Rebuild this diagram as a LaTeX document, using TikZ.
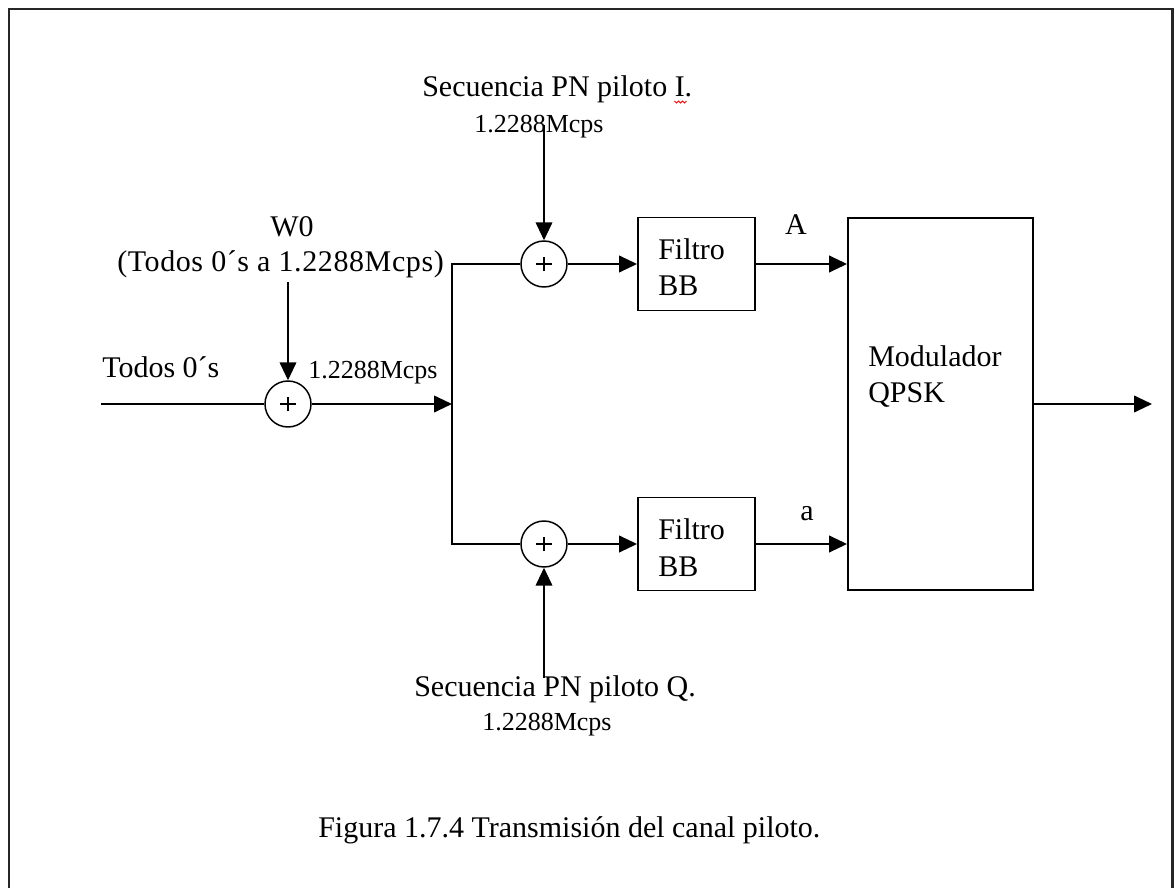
\documentclass[tikz,border=0pt]{standalone}
\usepackage{fontspec}
\setmainfont{Liberation Serif}
\usetikzlibrary{arrows.meta}
\begin{document}
\begin{tikzpicture}[x=0.75pt,y=-0.75pt,
  txt/.style={font=\fontsize{22.5}{27}\selectfont, inner sep=0pt, anchor=base west},
  sml/.style={font=\fontsize{19.5}{23}\selectfont, inner sep=0pt, anchor=base west},
  ln/.style={line width=1.4pt},
  arr/.style={line width=1.4pt, -{Triangle[length=13.5pt,width=12.5pt]}},
  sumnode/.style={circle, draw, line width=1.1pt, minimum size=34.5pt, inner sep=0pt,
    path picture={
      \draw[line width=1pt] ([xshift=-6pt]path picture bounding box.center) -- ([xshift=6pt]path picture bounding box.center);
      \draw[line width=1pt] ([yshift=-5.6pt]path picture bounding box.center) -- ([yshift=5.6pt]path picture bounding box.center);
    }},
  blk/.style={draw, line width=1.4pt, inner sep=0pt}
]
\useasboundingbox (0,0) rectangle (1175,888);
% frame
\draw[line width=1.6pt, black!85] (9,888) -- (9,9) -- (1172.5,9) -- (1172.5,888);

% summing nodes
\node[sumnode] (s1) at (288,404) {};
\node[sumnode] (s2) at (544,264) {};
\node[sumnode] (s3) at (544,544) {};

% blocks
\node[blk, minimum width=87.75pt, minimum height=69.75pt] (f1) at (696.5,264) {};
\node[blk, minimum width=87.75pt, minimum height=69.75pt] (f2) at (696.5,544) {};
\node[blk, minimum width=138.75pt, minimum height=279pt] (mod) at (940.5,404) {};

% block texts
\node[txt] (f1a) at (658,259) {Filtro};
\node[txt] (f1b) at (658,296) {BB};
\node[txt] (f2a) at (658,539) {Filtro};
\node[txt] (f2b) at (658,576) {BB};
\node[txt] (moda) at (868,366) {Modulador};
\node[txt] (modb) at (868,402) {QPSK};

% labels
\node[txt] (todos) at (102,377) {Todos 0´s};
\node[txt, anchor=base] (w0) at (292,237) {W0};
\node[txt, font=\fontsize{22.5}{27}\selectfont\addfontfeatures{LetterSpace=2}] (w0b) at (117,272) {(Todos 0´s a 1.2288Mcps)};
\node[sml] (r1) at (308,378) {1.2288Mcps};
\node[txt] (pnI) at (422,97) {Secuencia PN piloto I.};
\node[sml] (pnIr) at (474,133) {1.2288Mcps};
\node[txt] (pnQ) at (414,696) {Secuencia PN piloto Q.};
\node[sml] (pnQr) at (482,730) {1.2288Mcps};
\node[txt, anchor=base] (la) at (796,235) {A};
\node[txt, anchor=base] (lb) at (807,520) {a};
\node[txt] (cap) at (318,837) {Figura 1.7.4 Transmisión del canal piloto.};

% spell-check squiggle
\draw[red, line width=0.6pt] ([xshift=-13.5pt,yshift=-3pt]pnI.base east) -- ++(1.5pt,-1.5pt) -- ++(1.5pt,1.5pt) -- ++(1.5pt,-1.5pt) -- ++(1.5pt,1.5pt) -- ++(1.5pt,-1.5pt) -- ++(1.5pt,1.5pt);

% coordinates
\coordinate (in) at (101,404);
\coordinate (w0top) at (288,282);
\coordinate (j) at (452,404);
\coordinate (jt) at (452,264);
\coordinate (jb) at (452,544);
\coordinate (pntop) at (544,125);
\coordinate (pnbot) at (544,678);
\coordinate (out) at (1152,404);

% connectors
\draw[ln] (in) -- (s1.west);
\draw[arr] (w0top) -- (s1.north);
\draw[arr] (s1.east) -- (j);
\draw[ln] (s2.west) -- (jt) -- (jb) -- (s3.west);
\draw[arr] (pntop) -- (s2.north);
\draw[arr] (pnbot) -- (s3.south);
\draw[arr] (s2.east) -- (f1.west);
\draw[arr] (s3.east) -- (f2.west);
\draw[arr] (f1.east) -- (f1.east -| mod.west);
\draw[arr] (f2.east) -- (f2.east -| mod.west);
\draw[arr] (mod.east) -- (out);
\end{tikzpicture}
\end{document}
